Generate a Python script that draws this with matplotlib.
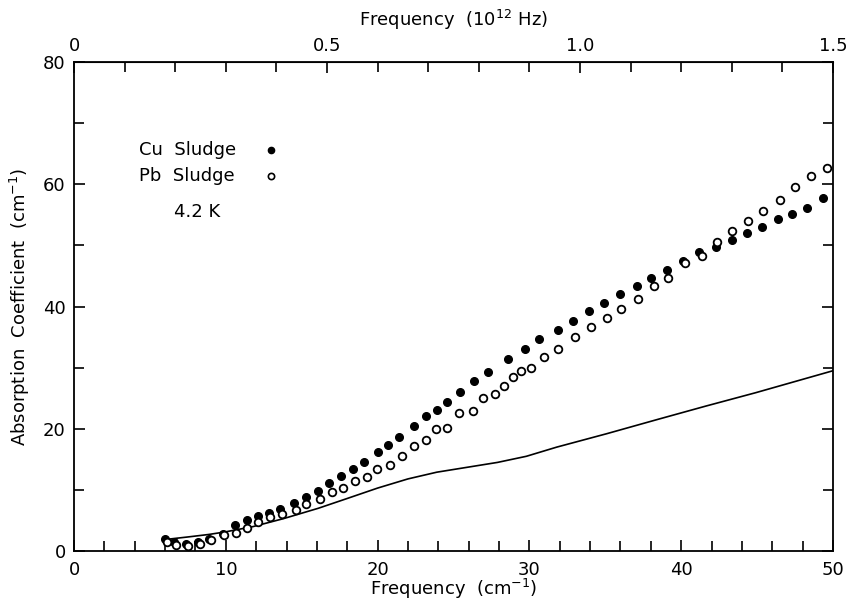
import numpy as np
import matplotlib
matplotlib.use('Agg')
import matplotlib.pyplot as plt
from matplotlib.ticker import MultipleLocator, FixedLocator

# Cu sludge (filled circles)
cu_x = [6.0, 6.6, 7.4, 8.2, 8.9, 9.8, 10.6, 11.4, 12.1, 12.85, 13.6, 14.5, 15.3,
        16.1, 16.8, 17.6, 18.4, 19.1, 20.0, 20.7, 21.4, 22.4, 23.2, 23.9, 24.6,
        25.4, 26.35, 27.27, 28.6, 29.7, 30.65, 31.9, 32.9, 33.95, 34.93, 35.97,
        37.07, 37.99, 39.04, 40.1, 41.17, 42.27, 43.33, 44.36, 45.32, 46.4,
        47.28, 48.31, 49.36]
cu_y = [2.0, 1.4, 1.2, 1.5, 2.0, 2.8, 4.2, 5.0, 5.7, 6.2, 6.8, 7.9, 8.8,
        9.8, 11.2, 12.3, 13.4, 14.6, 16.2, 17.4, 18.7, 20.5, 22.1, 23.1, 24.4,
        26.0, 27.8, 29.3, 31.4, 33.1, 34.7, 36.1, 37.7, 39.3, 40.6, 42.0,
        43.4, 44.6, 46.0, 47.5, 48.9, 49.7, 50.9, 52.0, 53.1, 54.3,
        55.2, 56.2, 57.7]

# Pb sludge (open circles)
pb_x = [6.1, 6.7, 7.5, 8.3, 9.0, 9.9, 10.7, 11.4, 12.1, 12.9, 13.7, 14.6, 15.3,
        16.2, 16.97, 17.74, 18.5, 19.3, 19.98, 20.81, 21.59, 22.4, 23.17, 23.83,
        24.55, 25.38, 26.26, 26.96, 27.73, 28.32, 28.94, 29.42, 30.1, 30.96,
        31.9, 33.0, 34.05, 35.09, 36.03, 37.18, 38.23, 39.15, 40.25, 41.35,
        42.33, 43.37, 44.38, 45.41, 46.51, 47.5, 48.55, 49.6]
pb_y = [1.4, 1.0, 0.9, 1.2, 1.8, 2.6, 3.0, 3.7, 4.8, 5.5, 6.05, 6.7, 7.7,
        8.5, 9.6, 10.25, 11.4, 12.1, 13.35, 14.1, 15.6, 17.2, 18.15, 19.9,
        20.2, 22.55, 22.95, 25.0, 25.7, 27.05, 28.4, 29.4, 30.0, 31.7,
        33.0, 35.0, 36.6, 38.2, 39.6, 41.3, 43.3, 44.6, 47.1, 48.3,
        50.5, 52.4, 54.0, 55.7, 57.4, 59.5, 61.4, 62.7]

# solid curve
line_x = [6.07, 7.5, 8.85, 9.9, 11.8, 13.8, 16.1, 18.0, 20.0, 22.0, 23.9, 25.9,
          27.9, 29.8, 31.8, 35.1, 38.4, 41.6, 44.9, 50.0]
line_y = [1.9, 2.3, 2.7, 3.1, 4.0, 5.3, 7.0, 8.6, 10.3, 11.8, 12.9, 13.7,
          14.5, 15.5, 17.0, 19.2, 21.5, 23.7, 25.9, 29.5]

fs = 13
fig = plt.figure(figsize=(8.46, 6.03), dpi=100)
ax = fig.add_axes([0.0875, 0.0862, 0.8971, 0.8108])

ax.plot(line_x, line_y, color='black', lw=1.2)
ax.plot(cu_x, cu_y, 'o', color='black', ms=5.5, mec='black')
ax.plot(pb_x, pb_y, 'o', mfc='white', mec='black', mew=1.3, ms=5.5)

ax.set_xlim(0, 50)
ax.set_ylim(0, 80)
ax.xaxis.set_major_locator(MultipleLocator(10))
ax.xaxis.set_minor_locator(MultipleLocator(2))
ax.yaxis.set_major_locator(MultipleLocator(20))
ax.yaxis.set_minor_locator(MultipleLocator(10))
ax.tick_params(which='both', direction='in', labelsize=fs, right=True,
               width=1.2, color='black')
ax.tick_params(which='major', length=8)
ax.tick_params(which='minor', length=7)
ax.tick_params(axis='x', pad=7)
ax.tick_params(axis='y', pad=6)
for s in ax.spines.values():
    s.set_linewidth(1.3)

sec = ax.secondary_xaxis('top', functions=(lambda x: x * 0.03, lambda f: f / 0.03))
sec.xaxis.set_major_locator(FixedLocator([0, 0.5, 1.0, 1.5]))
sec.xaxis.set_minor_locator(MultipleLocator(0.1))
sec.set_xticklabels(['0', '0.5', '1.0', '1.5'])
sec.tick_params(which='both', direction='in', labelsize=fs, width=1.2, pad=5)
sec.tick_params(which='major', length=8)
sec.tick_params(which='minor', length=7)
sec.set_xlabel('Frequency  (10$^{12}$ Hz)', fontsize=fs, labelpad=8)

ax.set_xlabel('Frequency  (cm$^{-1}$)', fontsize=fs, labelpad=-1)
ax.set_ylabel('Absorption  Coefficient  (cm$^{-1}$)', fontsize=fs, labelpad=8)

ax.text(4.3, 65.6, 'Cu  Sludge', fontsize=fs, va='center', ha='left')
ax.plot([13.0], [65.6], 'o', color='black', ms=4.5)
ax.text(4.3, 61.4, 'Pb  Sludge', fontsize=fs, va='center', ha='left')
ax.plot([13.0], [61.4], 'o', mfc='white', mec='black', mew=1.2, ms=4.5)
ax.text(6.6, 55.5, '4.2 K', fontsize=fs, va='center', ha='left')

plt.savefig('out.png', dpi=100)
